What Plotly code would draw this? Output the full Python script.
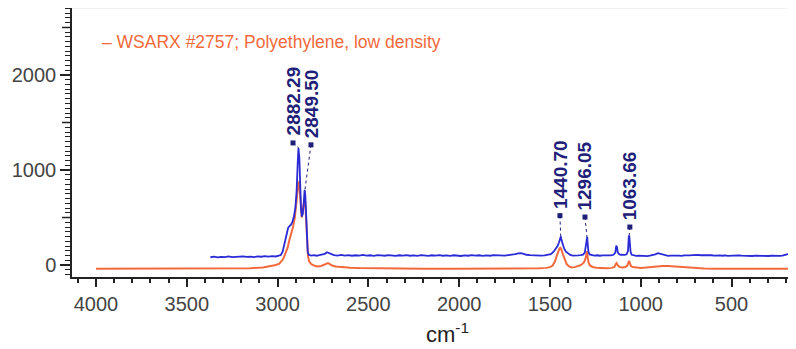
import plotly.graph_objects as go

# ---- data ----
blue_wn = [3370, 3350, 3330, 3310, 3290, 3270, 3250, 3230, 3210, 3190, 3170, 3150, 3130, 3110, 3090, 3070,
           3050, 3030, 3010, 2995, 2982, 2972, 2962, 2952, 2942, 2934, 2926, 2918, 2910, 2902, 2895, 2889,
           2885, 2880, 2876, 2871, 2866, 2861, 2856, 2851, 2847, 2843, 2839, 2834, 2828, 2815, 2800, 2785,
           2770, 2755, 2740, 2728, 2718, 2705, 2690, 2670, 2650, 2630, 2610, 2590, 2570, 2550, 2530, 2510,
           2490, 2470, 2450, 2430, 2410, 2390, 2370, 2350, 2330, 2310, 2290, 2270, 2250, 2230, 2210, 2190,
           2170, 2150, 2130, 2110, 2090, 2070, 2050, 2030, 2010, 1990, 1970, 1950, 1930, 1910, 1890, 1870,
           1850, 1830, 1810, 1790, 1770, 1750, 1730, 1710, 1690, 1675, 1660, 1645, 1630, 1610, 1590, 1570,
           1550, 1530, 1510, 1495, 1480, 1468, 1458, 1450, 1444, 1440, 1436, 1430, 1422, 1412, 1400, 1388,
           1375, 1360, 1345, 1330, 1318, 1308, 1302, 1298, 1295, 1292, 1288, 1282, 1270, 1255, 1240, 1225,
           1210, 1195, 1180, 1165, 1150, 1140, 1135, 1131, 1126, 1118, 1108, 1098, 1088, 1078, 1070, 1066,
           1063, 1060, 1056, 1050, 1040, 1025, 1010, 995, 980, 965, 950, 935, 920, 905, 892, 880,
           865, 850, 835, 820, 805, 790, 775, 760, 745, 730, 715, 700, 685, 670, 655, 640,
           625, 610, 595, 580, 565, 550, 535, 520, 505, 490, 475, 460, 445, 430, 415, 400,
           385, 370, 355, 340, 325, 310, 295, 280, 265, 250, 235, 220, 205, 190, 178, 168,
           158, 148, 140]
blue_int = [82, 88, 80, 86, 84, 90, 83, 87, 85, 92, 86, 89, 84, 91, 87, 93,
            88, 94, 90, 96, 105, 140, 230, 330, 390, 410, 425, 455, 510, 600, 780, 1080,
            1230, 1130, 850, 590, 510, 540, 650, 790, 730, 490, 260, 140, 108, 100, 104, 98,
            103, 110, 118, 135, 128, 112, 104, 100, 106, 99, 104, 98, 103, 100, 106, 99,
            103, 97, 104, 101, 98, 105, 100, 96, 103, 99, 105, 98, 102, 96, 104, 100,
            97, 103, 99, 105, 98, 102, 96, 103, 100, 95, 102, 98, 104, 99, 103, 97,
            101, 98, 104, 100, 103, 99, 105, 108, 114, 122, 126, 118, 108, 104, 100, 103,
            98, 102, 106, 115, 140, 175, 200, 240, 290, 300, 260, 210, 175, 140, 118, 106,
            100, 98, 102, 104, 110, 130, 200, 290, 295, 220, 140, 112, 104, 100, 103, 98,
            101, 99, 104, 102, 108, 130, 205, 190, 130, 112, 108, 104, 106, 112, 150, 300,
            310, 230, 140, 108, 100, 96, 99, 95, 98, 94, 99, 104, 112, 125, 118, 106,
            100, 96, 99, 95, 98, 100, 96, 101, 98, 102, 104, 108, 106, 103, 104, 101,
            106, 103, 99, 104, 101, 98, 102, 97, 100, 104, 99, 102, 98, 96, 100, 97,
            95, 99, 97, 94, 98, 96, 95, 99, 96, 94, 97, 99, 104, 116, 126, 118,
            106, 102, 100]

orange_wn = [4000, 3800, 3600, 3400, 3250, 3150, 3080, 3040, 3010, 2990, 2970, 2955, 2945, 2935, 2925, 2915,
             2905, 2897, 2890, 2885, 2881, 2877, 2872, 2867, 2862, 2857, 2852, 2848, 2844, 2840, 2836, 2832,
             2826, 2815, 2800, 2780, 2760, 2745, 2732, 2722, 2712, 2700, 2680, 2650, 2600, 2550, 2500, 2400,
             2200, 2000, 1800, 1650, 1560, 1520, 1500, 1485, 1472, 1462, 1454, 1447, 1442, 1437, 1430, 1420,
             1408, 1395, 1380, 1365, 1350, 1335, 1322, 1312, 1304, 1299, 1296, 1292, 1287, 1280, 1265, 1245,
             1220, 1190, 1160, 1145, 1137, 1133, 1128, 1118, 1100, 1085, 1074, 1068, 1064, 1060, 1054, 1045,
             1025, 1000, 970, 940, 910, 880, 850, 820, 790, 750, 700, 650, 600, 500, 300, 140]
orange_int = [-40, -40, -40, -39, -37, -33, -25, -15, 0, 15, 60, 130, 180, 260, 330, 400,
              500, 650, 800, 870, 875, 780, 600, 500, 560, 640, 690, 670, 540, 300, 150, 90,
              40, 10, -5, -15, -10, 0, 15, 20, 10, -5, -15, -22, -28, -32, -34, -37,
              -39, -40, -40, -38, -35, -30, -22, -5, 40, 100, 150, 175, 180, 165, 120, 60,
              10, -15, -25, -22, -15, -5, 10, 30, 70, 140, 145, 80, 25, -5, -20, -28,
              -32, -33, -30, -20, 10, 20, 0, -20, -25, -20, -5, 30, 45, 20, -10, -22,
              -28, -30, -27, -20, -14, -10, -10, -14, -20, -27, -33, -37, -39, -40, -40, -40]

peak_wn = [2882.29, 2849.50, 1440.70, 1296.05, 1063.66]
peak_labels = ["2882.29", "2849.50", "1440.70", "1296.05", "1063.66"]
legend_text = "– WSARX #2757; Polyethylene, low density"
x_tickvals = [500, 1000, 1500, 2000, 2500, 3000, 3500, 4000]
y_tickvals = [0, 1000, 2000]
y_halfticks = [500, 1500, 2500]

# label anchor placement (layout, in axis units)
label_pos = [(2915, 1285), (2816, 1265), (1445, 520), (1307, 505), (1060, 400)]

BLUE = "#2A2AD6"
ORANGE = "#F26A3C"
NAVY = "#202078"
AX = "#222"
FONT = "Arial, Liberation Sans, sans-serif"

fig = go.Figure()
fig.add_trace(go.Scatter(x=orange_wn, y=orange_int, mode="lines",
                         line=dict(color=ORANGE, width=2), hoverinfo="skip", showlegend=False))
fig.add_trace(go.Scatter(x=blue_wn, y=blue_int, mode="lines",
                         line=dict(color=BLUE, width=1.8), hoverinfo="skip", showlegend=False))

for pw, lab, (lx, ly) in zip(peak_wn, peak_labels, label_pos):
    top = max(v for w, v in zip(blue_wn, blue_int) if abs(w - pw) <= 6)
    fig.add_trace(go.Scatter(x=[lx, pw], y=[ly, top], mode="lines",
                             line=dict(color=NAVY, width=1, dash="dot"),
                             hoverinfo="skip", showlegend=False))
    fig.add_trace(go.Scatter(x=[lx], y=[ly], mode="markers",
                             marker=dict(symbol="square", size=5, color=NAVY),
                             hoverinfo="skip", showlegend=False))
    fig.add_annotation(x=lx, y=ly, text=lab, textangle=-90, showarrow=False,
                       xanchor="center", yanchor="bottom", yshift=5,
                       font=dict(family=FONT, size=19, color=NAVY, weight="bold"))

fig.add_annotation(xref="paper", yref="paper", x=0.0387, y=0.874, text=legend_text,
                   showarrow=False, xanchor="left", yanchor="middle",
                   font=dict(family=FONT, size=17.5, color=ORANGE))
fig.add_annotation(xref="paper", yref="paper", x=0.518, y=-0.208, text="cm<sup>-1</sup>",
                   showarrow=False, xanchor="center", yanchor="middle",
                   font=dict(family=FONT, size=22, color=AX))

fig.add_shape(type="line", xref="paper", yref="paper", x0=0, x1=1, y0=1, y1=1,
              line=dict(color="#E4E4E4", width=1))
for v in y_halfticks:
    fig.add_shape(type="line", xref="paper", xsizemode="pixel", xanchor=0, x0=-10, x1=0,
                  yref="y", y0=v, y1=v, line=dict(color=AX, width=1.5))

fig.update_xaxes(range=[4132, 145], showgrid=False, zeroline=False,
                 showline=True, linecolor=AX, linewidth=1.5,
                 tickmode="array", tickvals=x_tickvals,
                 ticks="outside", ticklen=8, tickwidth=1.5, tickcolor=AX,
                 tickfont=dict(family=FONT, size=20, color="#444"),
                 minor=dict(dtick=100, tick0=0, ticks="outside", ticklen=4, tickwidth=1.5, tickcolor=AX))
fig.update_yaxes(range=[-126, 2705], showgrid=False, zeroline=False,
                 showline=True, linecolor=AX, linewidth=1.5,
                 tickmode="array", tickvals=y_tickvals,
                 ticks="outside", ticklen=10, tickwidth=1.5, tickcolor=AX,
                 tickfont=dict(family=FONT, size=20, color="#444"),
                 minor=dict(dtick=50, tick0=0, ticks="outside", ticklen=5, tickwidth=1.2, tickcolor=AX))

# page body adds an 8px offset, so the figure is drawn 8px smaller
fig.update_layout(width=788, height=341, margin=dict(l=64, r=0, t=0, b=72),
                  paper_bgcolor="white", plot_bgcolor="white", showlegend=False)

fig.write_html("out.html")
